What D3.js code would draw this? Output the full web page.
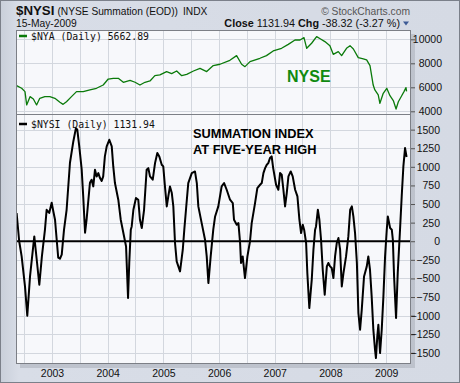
<!DOCTYPE html>
<html><head><meta charset="utf-8">
<script src="https://cdn.jsdelivr.net/npm/d3@7"></script>
<style>body{margin:0;background:#d6dbe5}svg{display:block}</style>
</head><body><svg id="c" width="460" height="383"></svg>
<script>
// ---------- DATA ----------
const nyaDates = ["2002-05-14","2002-06-16","2002-07-08","2002-07-19","2002-08-10","2002-09-01","2002-09-22","2002-10-13","2002-11-15","2002-12-18","2003-01-20","2003-02-22","2003-03-15","2003-04-06","2003-05-09","2003-06-11","2003-07-25","2003-09-07","2003-10-20","2003-12-03","2004-01-05","2004-02-07","2004-03-11","2004-04-13","2004-05-27","2004-06-29","2004-07-31","2004-09-02","2004-10-05","2004-11-06","2004-12-09","2005-01-22","2005-02-24","2005-03-29","2005-05-01","2005-06-03","2005-07-17","2005-08-29","2005-10-12","2005-11-24","2006-01-07","2006-03-13","2006-04-26","2006-05-29","2006-06-20","2006-07-23","2006-09-26","2006-11-08","2006-12-22","2007-02-15","2007-03-31","2007-05-14","2007-06-16","2007-07-12","2007-07-30","2007-08-31","2007-10-03","2007-10-29","2007-11-26","2007-12-29","2008-01-20","2008-02-22","2008-03-15","2008-04-16","2008-05-09","2008-05-31","2008-07-02","2008-08-04","2008-08-26","2008-09-17","2008-10-08","2008-10-19","2008-11-10","2008-11-21","2008-12-13","2009-01-05","2009-01-26","2009-02-18","2009-03-07","2009-03-22","2009-04-13","2009-04-28","2009-05-11","2009-05-15"];
const nyaValues = [6140,5920,5640,4530,5220,5030,4530,5080,5220,5220,5080,4750,4580,4800,5220,5640,5640,5780,5920,6190,6690,6750,6750,6420,6580,6420,6190,6420,6530,6970,7030,7310,7140,7360,6970,7080,7360,7580,7310,7810,7920,8250,8640,7920,7720,8140,8420,8640,9030,9250,9580,9940,9940,10140,9250,9670,10220,10030,9810,9470,8750,8970,8640,9250,9470,9190,8470,8360,8280,7810,6190,5780,5360,4670,5500,5920,5300,4860,4190,4800,5300,5640,5970,5663];

const nysiDates = ["2002-05-14","2002-05-31","2002-06-16","2002-07-08","2002-07-23","2002-08-10","2002-09-07","2002-09-23","2002-10-10","2002-10-27","2002-11-16","2002-11-27","2002-12-14","2002-12-30","2003-01-10","2003-01-21","2003-02-01","2003-02-11","2003-02-22","2003-03-06","2003-03-21","2003-04-07","2003-04-29","2003-05-21","2003-06-07","2003-06-16","2003-06-29","2003-07-15","2003-07-25","2003-08-06","2003-08-16","2003-09-07","2003-09-18","2003-09-29","2003-10-10","2003-10-21","2003-11-01","2003-11-12","2003-11-23","2003-12-03","2003-12-14","2003-12-26","2004-01-12","2004-01-28","2004-02-07","2004-02-18","2004-03-11","2004-03-27","2004-04-13","2004-05-01","2004-05-05","2004-05-14","2004-05-22","2004-06-01","2004-06-07","2004-06-18","2004-07-05","2004-07-20","2004-07-31","2004-08-12","2004-08-27","2004-09-13","2004-09-24","2004-10-05","2004-10-23","2004-11-07","2004-11-22","2004-12-05","2004-12-21","2004-12-31","2005-01-11","2005-01-23","2005-02-02","2005-02-13","2005-02-25","2005-03-07","2005-03-18","2005-03-29","2005-04-20","2005-05-08","2005-05-18","2005-05-29","2005-06-13","2005-07-06","2005-07-27","2005-08-08","2005-08-18","2005-09-09","2005-10-01","2005-10-12","2005-10-23","2005-11-07","2005-11-24","2005-12-06","2005-12-27","2006-01-18","2006-02-03","2006-02-20","2006-03-14","2006-04-01","2006-04-09","2006-04-27","2006-05-08","2006-05-19","2006-05-25","2006-06-05","2006-06-20","2006-07-06","2006-07-23","2006-08-03","2006-08-25","2006-09-09","2006-09-27","2006-10-08","2006-10-19","2006-10-30","2006-11-10","2006-11-20","2006-12-01","2006-12-12","2006-12-22","2007-01-10","2007-01-25","2007-02-05","2007-02-16","2007-02-27","2007-03-10","2007-03-21","2007-04-01","2007-04-16","2007-04-29","2007-05-15","2007-05-30","2007-06-12","2007-06-23","2007-07-04","2007-07-13","2007-07-26","2007-08-03","2007-08-16","2007-09-01","2007-09-12","2007-09-23","2007-09-29","2007-10-11","2007-10-21","2007-11-01","2007-11-12","2007-11-25","2007-12-09","2007-12-19","2007-12-30","2008-01-10","2008-01-21","2008-02-01","2008-02-12","2008-02-23","2008-03-05","2008-03-16","2008-03-27","2008-04-13","2008-04-28","2008-05-10","2008-05-21","2008-05-31","2008-06-11","2008-06-23","2008-07-03","2008-07-14","2008-07-25","2008-08-09","2008-08-27","2008-09-06","2008-09-17","2008-09-28","2008-10-09","2008-10-20","2008-10-26","2008-11-04","2008-11-11","2008-11-22","2008-12-03","2008-12-14","2008-12-25","2009-01-05","2009-01-12","2009-01-27","2009-02-07","2009-02-14","2009-02-22","2009-03-07","2009-03-18","2009-04-02","2009-04-13","2009-04-24","2009-05-05","2009-05-15"];
const nysiValues = [379,0,-204,-607,-1001,-473,65,-249,-585,-200,155,423,380,517,400,289,20,-222,-235,-180,155,423,1055,1341,1520,1500,1274,961,602,114,289,786,827,737,961,871,915,849,810,871,1140,1274,1364,1274,1005,782,558,289,114,-70,-289,-764,-289,155,199,423,580,558,289,177,423,961,983,871,827,1050,1185,1140,1028,1005,737,468,602,737,647,468,-20,-271,-405,-114,155,423,782,916,938,782,468,244,20,-204,-562,-204,155,333,468,737,782,692,558,513,289,222,244,-24,-293,-204,-495,-204,0,244,513,715,759,782,916,983,1028,1050,1118,1140,983,759,692,916,894,692,468,647,871,938,871,692,602,289,110,222,155,-24,-427,-898,-517,-114,155,199,423,289,20,-383,-719,-338,-293,-338,-360,-495,-204,-24,43,-114,-607,-427,-204,65,423,468,333,110,-293,-965,-1189,-920,-473,-338,-204,-383,-741,-1189,-1458,-1570,-1279,-1122,-1503,-1189,-741,-204,155,333,177,155,20,-473,-1032,-427,155,602,1005,1252,1132];

const yearLabels = ["2003","2004","2005","2006","2007","2008","2009"];
const nyaTicks = [4000,6000,8000,10000];
const nysiTicks = [-1500,-1250,-1000,-750,-500,-250,0,250,500,750,1000,1250,1500];

// ---------- SETUP ----------
const parse = d3.timeParse("%Y-%m-%d");
const svg = d3.select("#c");
const L = 16, R = 411, T = 30, MID = 114, B = 364;
const x = d3.scaleTime().domain([parse("2002-05-10"), parse("2009-06-13")]).range([L, R]);
const yTop = d3.scaleLinear().domain([3775, 10775]).range([MID, T]);
const yBot = d3.scaleLinear().domain([-1650, 1710]).range([B, MID]);
const sans = "'Liberation Sans', Arial, sans-serif";
const mono = "'DejaVu Sans Mono', monospace";

// background + frame
const defs = svg.append("defs");
const g1 = defs.append("linearGradient").attr("id","bg").attr("x1",0).attr("x2",1).attr("y1",0).attr("y2",0);
g1.append("stop").attr("offset","0").attr("stop-color","#c9cfda");
g1.append("stop").attr("offset","0.04").attr("stop-color","#d8dde7");
g1.append("stop").attr("offset","1").attr("stop-color","#d5dae4");
svg.append("rect").attr("x",0.5).attr("y",0.5).attr("width",459).attr("height",382)
  .attr("fill","url(#bg)").attr("stroke","#7b808a");

// shadow
svg.append("rect").attr("x",L+4).attr("y",T+4).attr("width",R-L).attr("height",B-T)
  .attr("fill","#aeb3bd").attr("opacity",0.6);
svg.append("rect").attr("x",L).attr("y",T).attr("width",R-L).attr("height",B-T).attr("fill","#f7f8fb");

// vertical gridlines (Jan & Jul)
const vgrid = d3.timeMonth.every(6).range(x.domain()[0], x.domain()[1]);
svg.append("g").selectAll("line").data(vgrid).join("line")
  .attr("x1", d => Math.round(x(d)) + 0.5).attr("x2", d => Math.round(x(d)) + 0.5)
  .attr("y1", T).attr("y2", B).attr("stroke", "#d3d7de").attr("stroke-width", 1);

// horizontal gridlines
svg.append("g").selectAll("line").data(nyaTicks).join("line")
  .attr("x1", L).attr("x2", R).attr("y1", d => Math.round(yTop(d)) + 0.5).attr("y2", d => Math.round(yTop(d)) + 0.5)
  .attr("stroke", "#d3d7de");
svg.append("g").selectAll("line").data(nysiTicks.filter(d => d !== 0)).join("line")
  .attr("x1", L).attr("x2", R).attr("y1", d => Math.round(yBot(d)) + 0.5).attr("y2", d => Math.round(yBot(d)) + 0.5)
  .attr("stroke", "#d3d7de");

// clip paths
defs.append("clipPath").attr("id","cTop").append("rect").attr("x",L).attr("y",T).attr("width",R-L).attr("height",MID-T);
defs.append("clipPath").attr("id","cBot").append("rect").attr("x",L).attr("y",MID).attr("width",R-L).attr("height",B-MID);

// zero line
svg.append("line").attr("x1", L).attr("x2", R).attr("y1", yBot(0)).attr("y2", yBot(0))
  .attr("stroke", "#000").attr("stroke-width", 2);

// NYA line
const nya = nyaDates.map((d, i) => ({ d: parse(d), v: nyaValues[i] }));
svg.append("path").datum(nya).attr("clip-path","url(#cTop)")
  .attr("d", d3.line().x(p => x(p.d)).y(p => yTop(p.v)))
  .attr("fill","none").attr("stroke","#0a7a0a").attr("stroke-width",1.3).attr("stroke-linejoin","round");

// NYSI line
const nysi = nysiDates.map((d, i) => ({ d: parse(d), v: nysiValues[i] }));
svg.append("path").datum(nysi).attr("clip-path","url(#cBot)")
  .attr("d", d3.line().x(p => x(p.d)).y(p => yBot(p.v)))
  .attr("fill","none").attr("stroke","#000").attr("stroke-width",2).attr("stroke-linejoin","round");

// frames
svg.append("rect").attr("x",L+0.5).attr("y",T+0.5).attr("width",R-L-1).attr("height",B-T-1)
  .attr("fill","none").attr("stroke","#7c7f86");
svg.append("line").attr("x1",L).attr("x2",R).attr("y1",MID+0.5).attr("y2",MID+0.5).attr("stroke","#7c7f86");

// right axes
const axTop = svg.append("g").attr("transform",`translate(${R},0)`)
  .call(d3.axisRight(yTop).tickValues(nyaTicks).tickSize(4).tickPadding(2).tickFormat(d3.format("d")));
axTop.select(".domain").remove();
axTop.selectAll("text").attr("text-anchor","end").attr("x",31);
const axBot = svg.append("g").attr("transform",`translate(${R},0)`)
  .call(d3.axisRight(yBot).tickValues(nysiTicks).tickSize(4).tickPadding(2).tickFormat(d3.format("d")));
axBot.select(".domain").remove();
axBot.selectAll("text").attr("text-anchor","end").attr("x",29);
[axTop, axBot].forEach(a => {
  a.selectAll("text").attr("font-family", sans).attr("font-size", 10.5).attr("fill", "#111");
  a.selectAll("line").attr("stroke", "#555");
});

// x axis
const yearDates = yearLabels.map(y => parse(y + "-01-01"));
const axX = svg.append("g").attr("transform",`translate(0,${B})`)
  .call(d3.axisBottom(x).tickValues(yearDates).tickSize(0).tickPadding(6).tickFormat((d, i) => yearLabels[i]));
axX.select(".domain").remove();
axX.selectAll("text").attr("font-family", sans).attr("font-size", 10.5).attr("fill", "#111");

// legends
svg.append("line").attr("x1",19).attr("x2",27).attr("y1",36).attr("y2",36).attr("stroke","#0a7a0a").attr("stroke-width",2.5);
svg.append("text").attr("x",31).attr("y",39.5).attr("font-family",mono).attr("font-size",9.8).attr("fill","#111")
  .text("$NYA (Daily) 5662.89");
svg.append("line").attr("x1",19).attr("x2",27).attr("y1",124).attr("y2",124).attr("stroke","#000").attr("stroke-width",2.5);
svg.append("text").attr("x",31).attr("y",127.5).attr("font-family",mono).attr("font-size",9.8).attr("fill","#111")
  .text("$NYSI (Daily) 1131.94");

// annotations
svg.append("text").attr("x",287).attr("y",82).attr("font-family",sans).attr("font-weight","bold").attr("font-size",16).attr("fill","#108a10")
  .text("NYSE");
const ann = svg.append("text").attr("font-family",sans).attr("font-weight","bold").attr("font-size",12.8).attr("fill","#000");
ann.append("tspan").attr("x",193).attr("y",138).text("SUMMATION INDEX");
ann.append("tspan").attr("x",193).attr("y",154).text("AT FIVE-YEAR HIGH");

// header
const h1 = svg.append("text").attr("x",16).attr("y",14.5).attr("font-family",sans).attr("fill","#111");
h1.append("tspan").attr("font-weight","bold").attr("font-size",13.3).text("$NYSI");
h1.append("tspan").attr("font-size",10.2).attr("dx",3).text("(NYSE Summation (EOD))");
h1.append("tspan").attr("font-size",10.2).attr("dx",5).text("INDX");
svg.append("text").attr("x",410).attr("y",14.5).attr("text-anchor","end").attr("font-family",sans).attr("font-size",10.3).attr("fill","#555")
  .text("© StockCharts.com");
svg.append("text").attr("x",16).attr("y",27).attr("font-family",sans).attr("font-size",10.3).attr("fill","#111").text("15-May-2009");
const h2 = svg.append("text").attr("x",400).attr("y",27).attr("text-anchor","end").attr("font-family",sans).attr("font-size",10.8).attr("fill","#111");
h2.append("tspan").attr("font-weight","bold").text("Close");
h2.append("tspan").text(" 1131.94 ");
h2.append("tspan").attr("font-weight","bold").text("Chg");
h2.append("tspan").text(" -38.32 (-3.27 %)");
svg.append("path").attr("d","M403,21.5 L409,21.5 L406,25.5 Z").attr("fill","#3d5a95");
</script></body></html>
